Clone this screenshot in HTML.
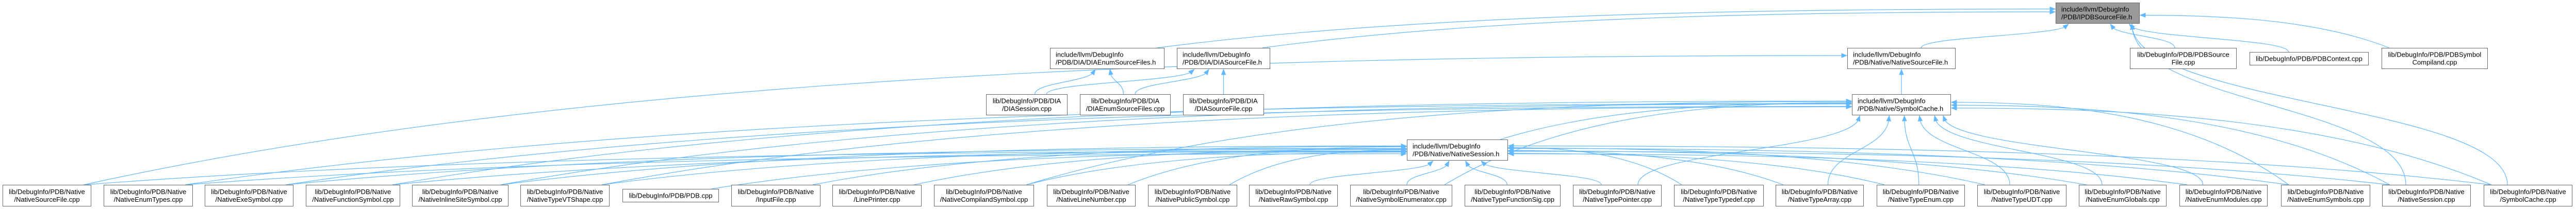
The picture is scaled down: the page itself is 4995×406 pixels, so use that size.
<!DOCTYPE html>
<html><head><meta charset="utf-8">
<style>
html,body{margin:0;padding:0;background:#fff;}
svg{display:block;}
text{font-family:"Liberation Sans",Arial,sans-serif;font-size:13px;fill:#000;}
</style></head>
<body>
<svg id="g" width="4995" height="406" viewBox="0 0 4995 406" xmlns="http://www.w3.org/2000/svg">
<g id="edges"></g>
<g id="nodes"></g>
</svg>
<script>
const nodeIds=["psf","dias_h","diasf_h","nsf_h","psf_cpp","pctx","pcomp","dsess","denum_cpp","dsf_cpp","sc_h","ns_h",
"b1","b2","b3","b4","b5","b6","b7","b8","b9","b10","b11","b12","b13","b14","b15","b16","b17","b18","b19","b20","b21","b22","b23","b24","b25"];
const nodeLabels=[
["include/llvm/DebugInfo","/PDB/IPDBSourceFile.h"],
["include/llvm/DebugInfo","/PDB/DIA/DIAEnumSourceFiles.h"],
["include/llvm/DebugInfo","/PDB/DIA/DIASourceFile.h"],
["include/llvm/DebugInfo","/PDB/Native/NativeSourceFile.h"],
["lib/DebugInfo/PDB/PDBSource","File.cpp"],
["lib/DebugInfo/PDB/PDBContext.cpp"],
["lib/DebugInfo/PDB/PDBSymbol","Compiland.cpp"],
["lib/DebugInfo/PDB/DIA","/DIASession.cpp"],
["lib/DebugInfo/PDB/DIA","/DIAEnumSourceFiles.cpp"],
["lib/DebugInfo/PDB/DIA","/DIASourceFile.cpp"],
["include/llvm/DebugInfo","/PDB/Native/SymbolCache.h"],
["include/llvm/DebugInfo","/PDB/Native/NativeSession.h"],
["lib/DebugInfo/PDB/Native","/NativeSourceFile.cpp"],
["lib/DebugInfo/PDB/Native","/NativeEnumTypes.cpp"],
["lib/DebugInfo/PDB/Native","/NativeExeSymbol.cpp"],
["lib/DebugInfo/PDB/Native","/NativeFunctionSymbol.cpp"],
["lib/DebugInfo/PDB/Native","/NativeInlineSiteSymbol.cpp"],
["lib/DebugInfo/PDB/Native","/NativeTypeVTShape.cpp"],
["lib/DebugInfo/PDB/PDB.cpp"],
["lib/DebugInfo/PDB/Native","/InputFile.cpp"],
["lib/DebugInfo/PDB/Native","/LinePrinter.cpp"],
["lib/DebugInfo/PDB/Native","/NativeCompilandSymbol.cpp"],
["lib/DebugInfo/PDB/Native","/NativeLineNumber.cpp"],
["lib/DebugInfo/PDB/Native","/NativePublicSymbol.cpp"],
["lib/DebugInfo/PDB/Native","/NativeRawSymbol.cpp"],
["lib/DebugInfo/PDB/Native","/NativeSymbolEnumerator.cpp"],
["lib/DebugInfo/PDB/Native","/NativeTypeFunctionSig.cpp"],
["lib/DebugInfo/PDB/Native","/NativeTypePointer.cpp"],
["lib/DebugInfo/PDB/Native","/NativeTypeTypedef.cpp"],
["lib/DebugInfo/PDB/Native","/NativeTypeArray.cpp"],
["lib/DebugInfo/PDB/Native","/NativeTypeEnum.cpp"],
["lib/DebugInfo/PDB/Native","/NativeTypeUDT.cpp"],
["lib/DebugInfo/PDB/Native","/NativeEnumGlobals.cpp"],
["lib/DebugInfo/PDB/Native","/NativeEnumModules.cpp"],
["lib/DebugInfo/PDB/Native","/NativeEnumSymbols.cpp"],
["lib/DebugInfo/PDB/Native","/NativeSession.cpp"],
["lib/DebugInfo/PDB/Native","/SymbolCache.cpp"]];
// boxes: x1,x2,y1,y2
const nodeBoxes=[
[3986,4149,5,46],[2036,2258,93,134],[2282,2463,93,134],[3582,3792,93,134],
[4130,4337,93,134],[4362,4593,101,127],[4618,4824,93,134],
[1912,2070,183,224],[2094,2270,183,224],[2294,2451,183,224],
[3591,3783,183,224],[2728,2924,271,312],
[5,177,359,401],[201,374,359,401],[397,569,359,401],[593,776,359,401],[799,986,359,401],[1009,1182,359,401],
[1207,1394,367,393],[1418,1591,359,401],[1614,1787,359,401],[1811,2005,359,401],[2030,2202,359,401],[2226,2399,359,401],
[2422,2594,359,401],[2618,2816,359,401],[2840,3026,359,401],[3050,3222,359,401],[3246,3420,359,401],[3443,3614,359,401],
[3639,3810,359,401],[3834,4007,359,401],[4031,4201,359,401],[4226,4397,359,401],[4423,4596,359,401],[4619,4791,359,401],[4816,4988,359,401]];
const edgeFrom=["dias_h","diasf_h","nsf_h","psf_cpp","pctx","pcomp","b24","b25","sc_h","b1","dsess","dsess","denum_cpp","denum_cpp","dsf_cpp","ns_h",
"b1","b2","b3","b4","b5","b6","b7","b8","b9","b10","b11","b12","b13","b14","b15","b16","b17","b18","b19","b20","b21","b22","b23","b24","b25",
"b2","b3","b4","b5","b6","b10","b18","b19","b20","b21","b22","b23","b24","b25","b14","b16"];
const edgeTo=["psf","psf","psf","psf","psf","psf","psf","psf","nsf_h","nsf_h","dias_h","diasf_h","dias_h","diasf_h","diasf_h","sc_h",
"ns_h","ns_h","ns_h","ns_h","ns_h","ns_h","ns_h","ns_h","ns_h","ns_h","ns_h","ns_h","ns_h","ns_h","ns_h","ns_h","ns_h","ns_h","ns_h","ns_h","ns_h","ns_h","ns_h","ns_h","ns_h",
"sc_h","sc_h","sc_h","sc_h","sc_h","sc_h","sc_h","sc_h","sc_h","sc_h","sc_h","sc_h","sc_h","sc_h","sc_h","sc_h"];

const NS="http://www.w3.org/2000/svg";
const gN=document.getElementById('nodes'), gE=document.getElementById('edges');
function mk(t,a){const e=document.createElementNS(NS,t);for(const k in a)e.setAttribute(k,a[k]);return e;}
function box(id){const b=nodeBoxes[nodeIds.indexOf(id)];return {x1:b[0],x2:b[1],y1:b[2],y2:b[3],cx:(b[0]+b[1])/2,cy:(b[2]+b[3])/2};}

nodeIds.forEach((id,i)=>{
  const b=nodeBoxes[i];const lab=nodeLabels[i];
  const g=mk('g',{});
  
  
  const r=mk('rect',{x:b[0]+0.5,y:b[2]+0.5,width:b[1]-b[0]-1,height:b[3]-b[2]-1,fill:id==='psf'?'#999999':'#ffffff',stroke:'#666666','stroke-width':1});
  
  
  g.appendChild(r);
  const header=lab[0].indexOf('include/')===0;
  const cy=(b[2]+b[3])/2;
  lab.forEach((s,j)=>{
    const y=lab.length===1?cy+4.5:cy-3+j*15;
    const t=mk('text',header?{x:b[0]+11,y:y}:{x:(b[0]+b[1])/2,y:y,'text-anchor':'middle'});
    t.textContent=s;
    
    
    g.appendChild(t);
  });
  gN.appendChild(g);
});

edgeFrom.forEach((f,i)=>{
  const s=box(f),t=box(edgeTo[i]);
  let sx,sy,tx,ty,path;
  const dx=t.cx-s.cx, dy=t.cy-s.cy;
  if(Math.abs(dx)>4*Math.abs(dy)+100){
    // long horizontal edge: leave from top corner side, enter target side
    const left=dx>0;
    sx=left?s.x2-15:s.x1+15; sy=s.y1;
    tx=left?t.x1-1:t.x2+1; ty=t.cy+((i*7)%20-10)*0.8;
    const mx=(sx+tx)/2;
    path=`M${sx},${sy} C${sx+(tx-sx)*0.3},${sy-(sy-ty)*0.9} ${tx-(tx-sx)*0.3},${ty} ${tx},${ty}`;
  } else {
    sx=s.cx+Math.max(-40,Math.min(40,dx*0.1)); sy=s.y1;
    tx=t.cx+Math.max(-(t.x2-t.x1)/2+15,Math.min((t.x2-t.x1)/2-15,dx*-0.15)); ty=t.y2+1;
    if(sy<ty){sy=s.y2;ty=t.y1;}
    path=`M${sx},${sy} C${sx},${(sy+ty)/2} ${tx},${(sy+ty)/2} ${tx},${ty}`;
  }
  const p=mk('path',{d:path,fill:'none',stroke:'#63b8ff','stroke-width':1.2});
  
  
  gE.appendChild(p);
  // arrowhead
  const L=p.getTotalLength();const a=p.getPointAtLength(Math.max(0,L-10)),e=p.getPointAtLength(L);
  const ux=e.x-a.x,uy=e.y-a.y,n=Math.hypot(ux,uy)||1,vx=ux/n,vy=uy/n;
  const bx=e.x-vx*10,by=e.y-vy*10;
  const ah=mk('polygon',{points:`${e.x},${e.y} ${bx-vy*4},${by+vx*4} ${bx+vy*4},${by-vx*4}`,fill:'#63b8ff',stroke:'#63b8ff'});
  
  
  gE.appendChild(ah);
});
</script>
</body></html>
